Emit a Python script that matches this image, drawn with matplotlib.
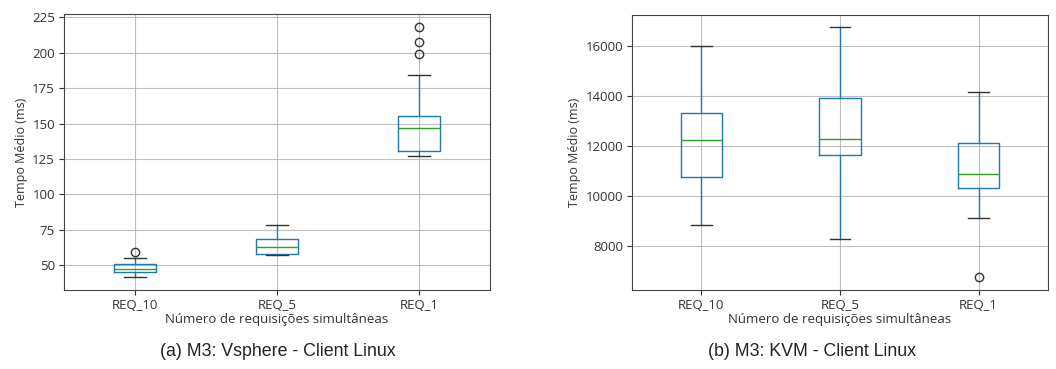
import matplotlib
matplotlib.use("Agg")
import matplotlib.pyplot as plt

categories = ["REQ_10", "REQ_5", "REQ_1"]

# (a) Vsphere: whislo, q1, median, q3, whishi, fliers
vs_whislo = [41.4, 57.3, 127.2]
vs_q1 = [44.9, 58.2, 130.8]
vs_med = [47.5, 63.0, 147.2]
vs_q3 = [51.0, 68.3, 155.6]
vs_whishi = [54.9, 78.1, 184.1]
vs_fliers = [[59.6], [], [198.9, 207.6, 218.6]]

# (b) KVM
kvm_whislo = [8824, 8279, 9090]
kvm_q1 = [10762, 11638, 10297]
kvm_med = [12219, 12273, 10866]
kvm_q3 = [13321, 13891, 12100]
kvm_whishi = [15976, 16732, 14145]
kvm_fliers = [[], [], [6726]]

ylabel = "Tempo Médio (ms)"
xlabel = "Número de requisições simultâneas"
captions = ["(a) M3: Vsphere - Client Linux", "(b) M3: KVM - Client Linux"]


def make_stats(lo, q1, med, q3, hi, fl):
    return [dict(label=c, whislo=a, q1=b, med=m, q3=d, whishi=e, fliers=f)
            for c, a, b, m, d, e, f in zip(categories, lo, q1, med, q3, hi, fl)]


plt.rcParams['font.family'] = ['Open Sans', 'DejaVu Sans']
fig = plt.figure(figsize=(10.56, 3.69), dpi=100)
ax1 = fig.add_axes([64/1056, 1-290/369, 426/1056, 276/369])
ax2 = fig.add_axes([632/1056, 1-290/369, 416/1056, 275/369])

for ax, st in [(ax1, make_stats(vs_whislo, vs_q1, vs_med, vs_q3, vs_whishi, vs_fliers)),
               (ax2, make_stats(kvm_whislo, kvm_q1, kvm_med, kvm_q3, kvm_whishi, kvm_fliers))]:
    ax.bxp(st, widths=0.3, showfliers=True,
           boxprops=dict(color='#1f77b4', linewidth=1),
           whiskerprops=dict(color='#1f77b4', linewidth=1),
           capprops=dict(color='#333333', linewidth=1),
           medianprops=dict(color='#2ca02c', linewidth=1),
           flierprops=dict(marker='o', markerfacecolor='none', markeredgecolor='#333333',
                           markersize=6, linestyle='none'))
    ax.grid(True, color='#b0b0b0', linewidth=0.8, alpha=0.8)
    ax.set_axisbelow(True)
    ax.tick_params(labelsize=9.5, colors='#333333', length=3.5, pad=3)
    ax.set_xlabel(xlabel, fontsize=9.5, color='#333333', labelpad=1)
    ax.set_ylabel(ylabel, fontsize=9, color='#333333', labelpad=3)
    for s in ax.spines.values():
        s.set_color('#444444')

ax1.set_yticks([50, 75, 100, 125, 150, 175, 200, 225])
ax2.set_yticks([8000, 10000, 12000, 14000, 16000])

fig.text(278/1056, 1-351/369, captions[0], ha='center', va='center', fontsize=12.8,
         family='Liberation Sans', color='#222222')
fig.text(812/1056, 1-351/369, captions[1], ha='center', va='center', fontsize=12.8,
         family='Liberation Sans', color='#222222')

fig.savefig("out.png", dpi=100, facecolor='white')
